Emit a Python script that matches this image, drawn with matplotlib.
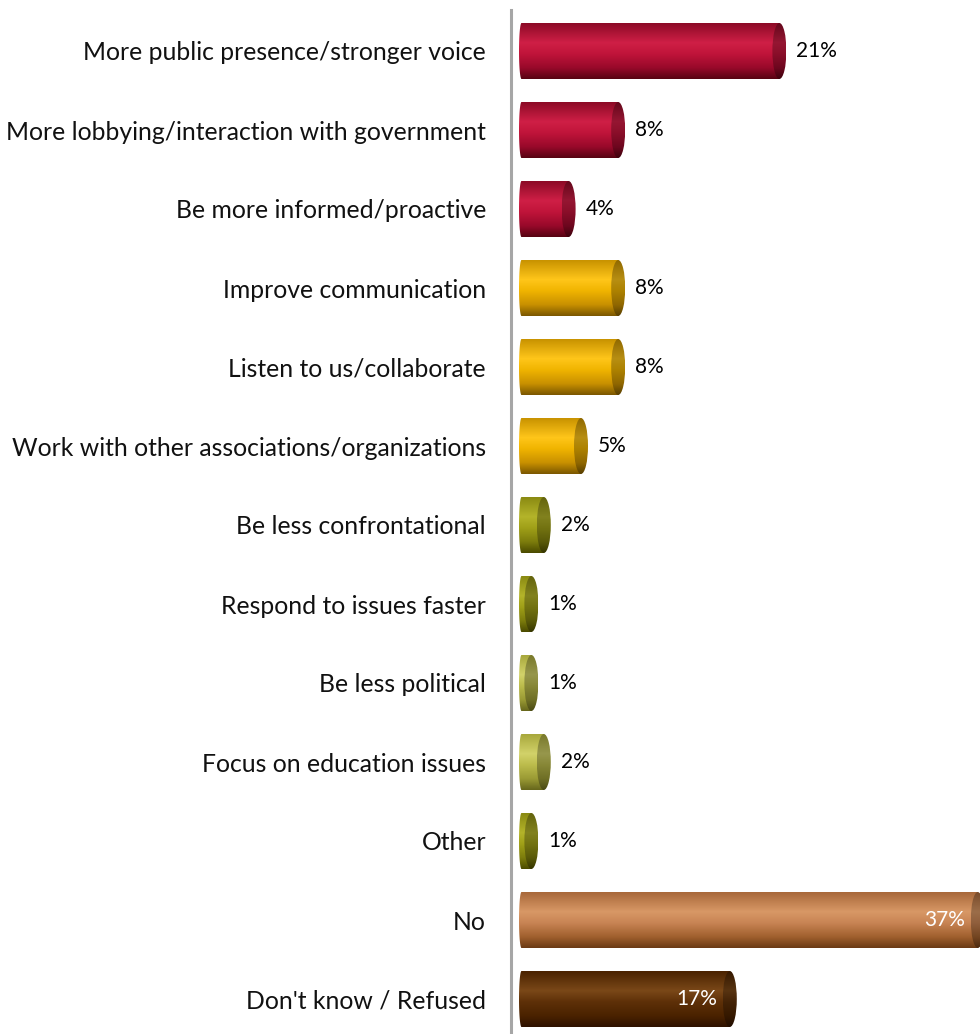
import numpy as np
import matplotlib
matplotlib.use("Agg")
import matplotlib.pyplot as plt
from matplotlib.colors import LinearSegmentedColormap, to_rgb
from matplotlib.patches import Ellipse, Polygon

# ---- data ----
categories = [
    "More public presence/stronger voice",
    "More lobbying/interaction with government",
    "Be more informed/proactive",
    "Improve communication",
    "Listen to us/collaborate",
    "Work with other associations/organizations",
    "Be less confrontational",
    "Respond to issues faster",
    "Be less political",
    "Focus on education issues",
    "Other",
    "No",
    "Don't know / Refused",
]
values = [21, 8, 4, 8, 8, 5, 2, 1, 1, 2, 1, 37, 17]
groups = ["red", "red", "red", "gold", "gold", "gold",
          "olive", "olive", "lightolive", "lightolive", "olive",
          "tan", "brown"]

# ---- styling ----
shades = {
    "red":        ["#8c0a26", "#cf1f46", "#c0143a", "#98092a", "#560312"],
    "gold":       ["#c89200", "#ffc61a", "#f0b400", "#c89000", "#7a5600"],
    "olive":      ["#8a8a12", "#b4b42a", "#a0a018", "#7c7c0c", "#4a4a00"],
    "lightolive": ["#a8a83c", "#d2d26a", "#bcbc4c", "#9a9a34", "#66661c"],
    "tan":        ["#a8683a", "#d89866", "#c88454", "#a0602e", "#6a3a14"],
    "brown":      ["#4a2200", "#7a4818", "#5e3008", "#4a2200", "#2e1200"],
}
inside_groups = ("tan", "brown")
stops = [0.0, 0.35, 0.55, 0.8, 1.0]
FONT = "Lato"


def cmap_for(name, factor=1.0):
    cols = [tuple(min(1, c * factor) for c in to_rgb(h)) for h in shades[name]]
    return LinearSegmentedColormap.from_list(name + str(factor), list(zip(stops, cols)))


W, H, DPI = 980, 1034, 100
fig = plt.figure(figsize=(W / DPI, H / DPI), dpi=DPI)
ax = fig.add_axes([511 / W, 0, (W - 511) / W, 1024 / H])

px_per_unit = 12.4
x_left = -8 / px_per_unit
x_right = x_left + (W - 511) / px_per_unit
ax.set_xlim(x_left, x_right)
slot = 79.0
y_top = (10 - 51) / slot
y_bot = y_top + 1024 / slot
ax.set_ylim(y_bot, y_top)

bar_h = 56 / slot
cap_a = 7.0 / px_per_unit      # half-width of the end cap ellipse
left_a = 2.5 / px_per_unit     # rounding of the left end

grad = np.linspace(0, 1, 256).reshape(-1, 1)

for i, (v, g) in enumerate(zip(values, groups)):
    top, bot = i - bar_h / 2, i + bar_h / 2
    # body outline with a slightly rounded left end
    t = np.linspace(np.pi / 2, 3 * np.pi / 2, 40)
    left_pts = np.column_stack([left_a * np.cos(t) + left_a, -bar_h / 2 * np.sin(t) + i])
    pts = np.vstack([[[v, top]], [[left_a, top]], left_pts, [[left_a, bot]], [[v, bot]]])
    body = Polygon(pts, closed=True, facecolor="none", edgecolor="none")
    ax.add_patch(body)
    im = ax.imshow(grad, cmap=cmap_for(g), aspect="auto", origin="upper",
                   extent=(0, v + cap_a, bot, top), interpolation="bilinear", zorder=2)
    im.set_clip_path(body)

    # end cap
    cap = Ellipse((v, i), width=2 * cap_a, height=bar_h, facecolor="none", edgecolor="none")
    ax.add_patch(cap)
    imc = ax.imshow(grad, cmap=cmap_for(g, 0.72), aspect="auto", origin="upper",
                    extent=(v - cap_a, v + cap_a, bot, top), interpolation="bilinear", zorder=3)
    imc.set_clip_path(cap)

    label = f"{v}%"
    if g in inside_groups:
        ax.annotate(label, xy=(v, i), xytext=(-9, 0), textcoords="offset points",
                    ha="right", va="center", color="white", fontsize=15,
                    family=FONT, zorder=5)
    else:
        ax.annotate(label, xy=(v + cap_a, i), xytext=(7, 0), textcoords="offset points",
                    ha="left", va="center", color="black", fontsize=15,
                    family=FONT, zorder=5)

ax.set_yticks(range(len(categories)))
ax.set_yticklabels(categories, fontsize=17.8, family=FONT, color="#111111")
ax.tick_params(axis="y", length=0, pad=18)
ax.set_xticks([])
for s in ["top", "right", "bottom"]:
    ax.spines[s].set_visible(False)
ax.spines["left"].set_color("#a6a6a6")
ax.spines["left"].set_linewidth(2.2)
ax.patch.set_alpha(0)

fig.savefig("out.png", dpi=DPI)
